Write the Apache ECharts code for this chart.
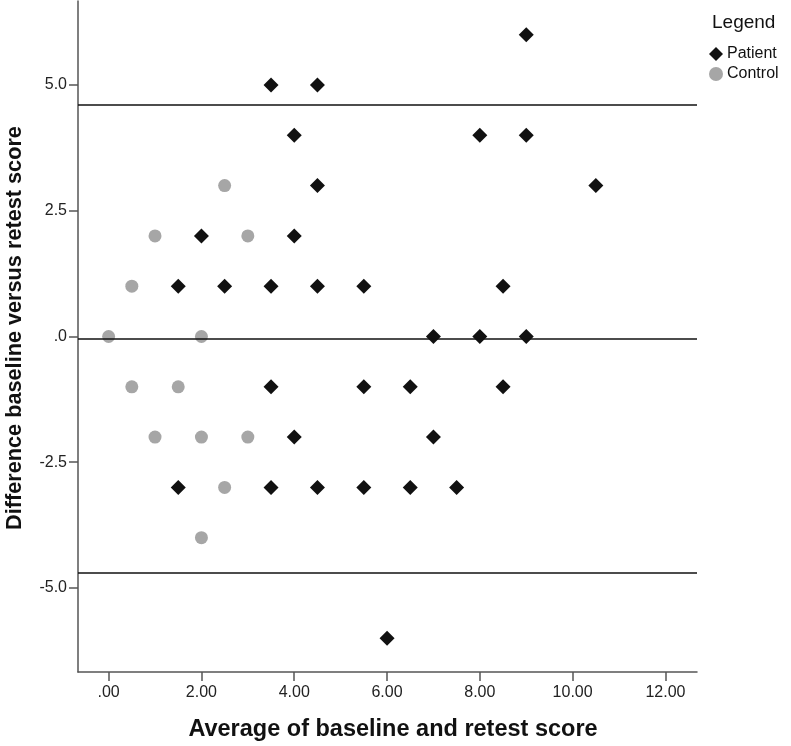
<!DOCTYPE html>
<html>
<head>
<meta charset="utf-8">
<script src="https://cdn.jsdelivr.net/npm/echarts@6/dist/echarts.min.js"></script>
<style>html,body{margin:0;padding:0;background:#fff;}#c{width:791px;height:746px;}</style>
</head>
<body>
<div id="c"></div>
<script>
var patientX = [3.5, 4.5, 9, 4, 8, 9, 4.5, 10.5, 2, 4, 1.5, 2.5, 3.5, 4.5, 5.5, 8.5, 7, 8, 9, 3.5, 5.5, 6.5, 8.5, 4, 7, 1.5, 3.5, 4.5, 5.5, 6.5, 7.5, 6];
var patientY = [5, 5, 6, 4, 4, 4, 3, 3, 2, 2, 1, 1, 1, 1, 1, 1, 0, 0, 0, -1, -1, -1, -1, -2, -2, -3, -3, -3, -3, -3, -3, -6];
var controlX = [0, 2, 0.5, 1, 3, 2.5, 0.5, 1.5, 1, 2, 3, 2.5, 2];
var controlY = [0, 0, 1, 2, 2, 3, -1, -1, -2, -2, -2, -3, -4];
var refLines = [4.61, -0.05, -4.70];
var xTicks = [0, 2, 4, 6, 8, 10, 12];
var yTicks = [-5, -2.5, 0, 2.5, 5];

function pairs(xs, ys) { return xs.map(function (x, i) { return [x, ys[i]]; }); }

var chart = echarts.init(document.getElementById('c'), null, { renderer: 'canvas' });
var axisColor = '#555';
var FF = 'Liberation Sans, Arial, sans-serif';
var labelFont = { fontFamily: FF, fontSize: 16, color: '#222' };
chart.setOption({
  animation: false,
  backgroundColor: '#fff',
  grid: { left: 78, right: 94, top: 1, bottom: 74, containLabel: false },
  xAxis: {
    type: 'value', min: -0.66, max: 12.68,
    axisLine: { show: true, onZero: false, lineStyle: { color: axisColor, width: 1.5 } },
    axisTick: { show: true, length: 9, customValues: xTicks, lineStyle: { color: axisColor, width: 1.5 } },
    axisLabel: Object.assign({ customValues: xTicks, margin: 13, formatter: function (v) { var s = v.toFixed(2); return s.charAt(0) === '0' ? s.slice(1) : s; } }, labelFont),
    splitLine: { show: false }
  },
  yAxis: {
    type: 'value', min: -6.67, max: 6.67,
    axisLine: { show: true, onZero: false, lineStyle: { color: axisColor, width: 1.5 } },
    axisTick: { show: true, length: 9, customValues: yTicks, lineStyle: { color: axisColor, width: 1.5 } },
    axisLabel: Object.assign({ customValues: yTicks, margin: 11, formatter: function (v) { var s = v.toFixed(1); if (s.charAt(0) === '0') s = s.slice(1); if (s === '-0.0') s = '.0'; return s; } }, labelFont),
    splitLine: { show: false }
  },
  legend: {
    orient: 'vertical', left: 704, top: 41, itemGap: 4, itemWidth: 14, itemHeight: 14,
    textStyle: { fontFamily: FF, fontSize: 16, color: '#111', padding: [0, 0, 0, -1] },
    data: [{ name: 'Patient', icon: 'diamond' }, { name: 'Control', icon: 'circle' }]
  },
  graphic: [
    { type: 'text', x: 712, y: 23, style: { text: 'Legend', font: '19px ' + FF, fill: '#111', align: 'left', verticalAlign: 'middle' } },
    { type: 'text', x: 393, y: 730, style: { text: 'Average of baseline and retest score', font: 'bold 23.5px ' + FF, fill: '#111', align: 'center', verticalAlign: 'middle' } },
    { type: 'text', x: 15, y: 328, rotation: Math.PI / 2, style: { text: 'Difference baseline versus retest score', font: 'bold 21.7px ' + FF, fill: '#111', align: 'center', verticalAlign: 'middle' } }
  ],
  series: [
    {
      name: 'Control', type: 'scatter', symbol: 'circle', symbolSize: 13,
      itemStyle: { color: '#a6a6a6', opacity: 1 },
      data: pairs(controlX, controlY), z: 3,
      markLine: {
        silent: true, symbol: ['none', 'none'], label: { show: false },
        lineStyle: { color: '#111', width: 1.5, type: 'solid' },
        data: refLines.map(function (v) { return { yAxis: v }; })
      }
    },
    {
      name: 'Patient', type: 'scatter', symbol: 'diamond', symbolSize: 15,
      itemStyle: { color: '#111', opacity: 1 },
      data: pairs(patientX, patientY), z: 4
    }
  ]
});
</script>
</body>
</html>
